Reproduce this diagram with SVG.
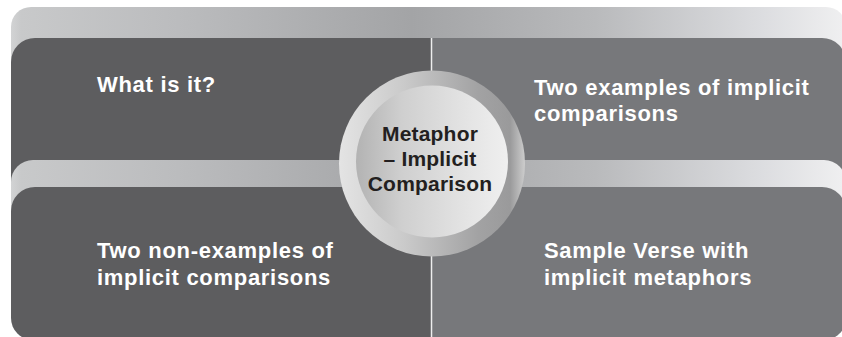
<svg xmlns="http://www.w3.org/2000/svg" width="842" height="337" viewBox="0 0 842 337">
<defs>
<linearGradient id="band" gradientUnits="userSpaceOnUse" x1="11" y1="0" x2="846" y2="0">
<stop offset="0" stop-color="#d2d3d4"/>
<stop offset="0.012" stop-color="#c8c9ca"/>
<stop offset="0.2" stop-color="#bbbcbe"/>
<stop offset="0.48" stop-color="#a3a4a6"/>
<stop offset="0.7" stop-color="#b9babc"/>
<stop offset="0.9" stop-color="#dcdde0"/>
<stop offset="1" stop-color="#f0f0f1"/>
</linearGradient>
<linearGradient id="ring" gradientUnits="userSpaceOnUse" x1="339" y1="0" x2="525" y2="0">
<stop offset="0" stop-color="#e4e4e4"/>
<stop offset="0.35" stop-color="#cacaca"/>
<stop offset="0.75" stop-color="#a2a2a3"/>
<stop offset="0.92" stop-color="#9a9a9b"/>
<stop offset="1" stop-color="#cdcdcd"/>
</linearGradient>
<linearGradient id="disc" gradientUnits="userSpaceOnUse" x1="355" y1="0" x2="510" y2="0">
<stop offset="0" stop-color="#b2b2b2"/>
<stop offset="0.3" stop-color="#cfcfcf"/>
<stop offset="0.7" stop-color="#e3e3e3"/>
<stop offset="1" stop-color="#f0f0f0"/>
</linearGradient>
<style>
.band{fill:url(#band)}
.darkL{fill:#5d5d5f}
.darkR{fill:#77787b}
.lbl{font-family:"Liberation Sans",Arial,Helvetica,sans-serif;font-weight:bold;font-size:22px;fill:#ffffff;letter-spacing:0.7px}
.ctr{font-family:"Liberation Sans",Arial,Helvetica,sans-serif;font-weight:bold;font-size:21px;fill:#231f20;letter-spacing:0.2px;text-anchor:middle}
.div{stroke:#eeeeee;stroke-width:1.5;fill:none}
</style>
</defs>

<rect class="band" x="11" y="7" width="835" height="170" rx="20" ry="20"/>

<g id="tab-what">
<path class="darkL" d="M11 62 A24 24 0 0 1 35 38 H431 V192 H11 Z"/>
<text class="lbl" x="97" y="92">What is it?</text>
</g>

<g id="tab-examples">
<path class="darkR" d="M432 38 H822 A24 24 0 0 1 846 62 V192 H432 Z"/>
<text class="lbl" x="534" y="95">Two examples of implicit</text>
<text class="lbl" x="534" y="121">comparisons</text>
</g>

<rect class="band" x="11" y="160" width="835" height="80" rx="22" ry="22"/>

<g id="tab-nonexamples">
<path class="darkL" d="M11 211 A24 24 0 0 1 35 187 H431 V340 H33 A22 22 0 0 1 11 318 Z"/>
<text class="lbl" x="97" y="258">Two non-examples of</text>
<text class="lbl" x="97" y="285">implicit comparisons</text>
</g>

<g id="tab-verse">
<path class="darkR" d="M432 187 H822 A24 24 0 0 1 846 211 V318 A22 22 0 0 1 824 340 H432 Z"/>
<text class="lbl" x="544" y="258">Sample Verse with</text>
<text class="lbl" x="544" y="285">implicit metaphors</text>
</g>

<g id="connectors">
<line class="div" x1="431.5" y1="38" x2="431.5" y2="340"/>
</g>

<g id="center">
<circle cx="432" cy="163.5" r="93" fill="url(#ring)"/>
<circle cx="432" cy="161.5" r="76" fill="url(#disc)"/>
<text class="ctr" x="430" y="141">Metaphor</text>
<text class="ctr" x="430" y="166">– Implicit</text>
<text class="ctr" x="430" y="191">Comparison</text>
</g>
</svg>
